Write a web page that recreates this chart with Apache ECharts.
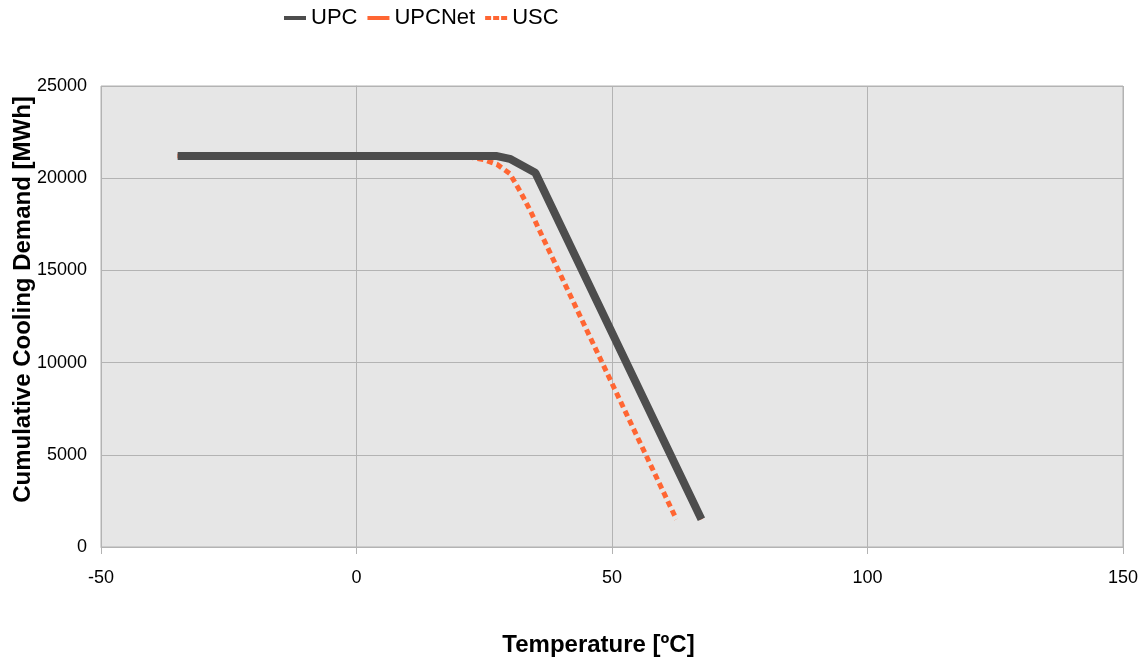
<!DOCTYPE html>
<html>
<head>
<meta charset="utf-8">
<script src="https://cdn.jsdelivr.net/npm/echarts@6/dist/echarts.min.js"></script>
<style>html,body{margin:0;padding:0;background:#fff;}#c{width:1147px;height:659px;}</style>
</head>
<body>
<div id="c"></div>
<script>
const seriesNames = ['UPC', 'UPCNet', 'USC'];
const upcX = [-35, 27.5, 30, 35, 67.5];
const upcY = [21200, 21200, 21050, 20300, 1500];
const upcNetX = [-35, 27.5, 30, 35, 67.5];
const upcNetY = [21200, 21200, 21000, 20300, 1500];
const uscX = [-35, 22, 25, 27.5, 30, 32, 34, 35.5, 62.6];
const uscY = [21200, 21150, 21000, 20750, 20250, 19300, 18250, 17350, 1500];
const xTicks = { min: -50, max: 150, interval: 50 };
const yTicks = { min: 0, max: 25000, interval: 5000 };

const zip = (xs, ys) => xs.map((x, i) => [x, ys[i]]);
const font = 'Liberation Sans, Arial, sans-serif';
const solidIcon = 'path://M0,0H22V4H0Z';
const dotIcon = 'path://M0,0H6V4H0Z M8,0H14V4H8Z M16,0H22V4H16Z';
const chart = echarts.init(document.getElementById('c'));
chart.setOption({
  animation: false,
  textStyle: { fontFamily: font },
  legend: {
    top: 2, left: 279, itemWidth: 22, itemHeight: 4, itemGap: 10,
    textStyle: { fontSize: 22, color: '#000', fontFamily: font },
    data: [
      { name: seriesNames[0], icon: solidIcon, itemStyle: { color: '#4d4d4d' } },
      { name: seriesNames[1], icon: solidIcon, itemStyle: { color: '#ff6633' } },
      { name: seriesNames[2], icon: dotIcon, itemStyle: { color: '#ff6633' } }
    ]
  },
  grid: { left: 101, right: 24, top: 86, bottom: 112, outerBoundsMode: 'none', containLabel: false,
    show: true, backgroundColor: '#e6e6e6', borderColor: '#b3b3b3', borderWidth: 1 },
  xAxis: {
    type: 'value', min: xTicks.min, max: xTicks.max, interval: xTicks.interval,
    name: 'Temperature [ºC]', nameLocation: 'middle', nameGap: 86, nameMoveOverlap: false,
    nameTextStyle: { fontSize: 24, fontWeight: 'bold', color: '#000', fontFamily: font, padding: [0, 27, 0, 0] },
    axisLine: { onZero: false, lineStyle: { color: '#b3b3b3' } },
    axisTick: { show: true, length: 7, lineStyle: { color: '#b3b3b3' } },
    axisLabel: { fontSize: 18, color: '#000', margin: 22, fontFamily: font, formatter: v => String(v) },
    splitLine: { show: true, lineStyle: { color: '#b3b3b3' } }
  },
  yAxis: {
    type: 'value', min: yTicks.min, max: yTicks.max, interval: yTicks.interval,
    name: 'Cumulative Cooling Demand [MWh]', nameLocation: 'middle', nameGap: 66, nameMoveOverlap: false,
    nameTextStyle: { fontSize: 24, fontWeight: 'bold', color: '#000', fontFamily: font, padding: [0, 0, 0, 34] },
    axisLine: { show: true, lineStyle: { color: '#b3b3b3' } },
    axisTick: { show: true, length: 7, lineStyle: { color: '#b3b3b3' } },
    axisLabel: { fontSize: 18, color: '#000', margin: 14, fontFamily: font, formatter: v => String(v) },
    splitLine: { show: true, lineStyle: { color: '#b3b3b3' } }
  },
  series: [
    { name: 'UPC', type: 'line', data: zip(upcX, upcY), showSymbol: false, symbol: 'none', z: 5,
      color: '#4d4d4d', lineStyle: { color: '#4d4d4d', width: 8, cap: 'butt' } },
    { name: 'UPCNet', type: 'line', data: zip(upcNetX, upcNetY), showSymbol: false, symbol: 'none', z: 3,
      color: '#ff6633', lineStyle: { color: '#ff6633', width: 4 } },
    { name: 'USC', type: 'line', data: zip(uscX, uscY), showSymbol: false, symbol: 'none', z: 4,
      color: '#ff6633', lineStyle: { color: '#ff6633', width: 5, type: [6, 4], cap: 'butt' } }
  ]
});
</script>
</body>
</html>
